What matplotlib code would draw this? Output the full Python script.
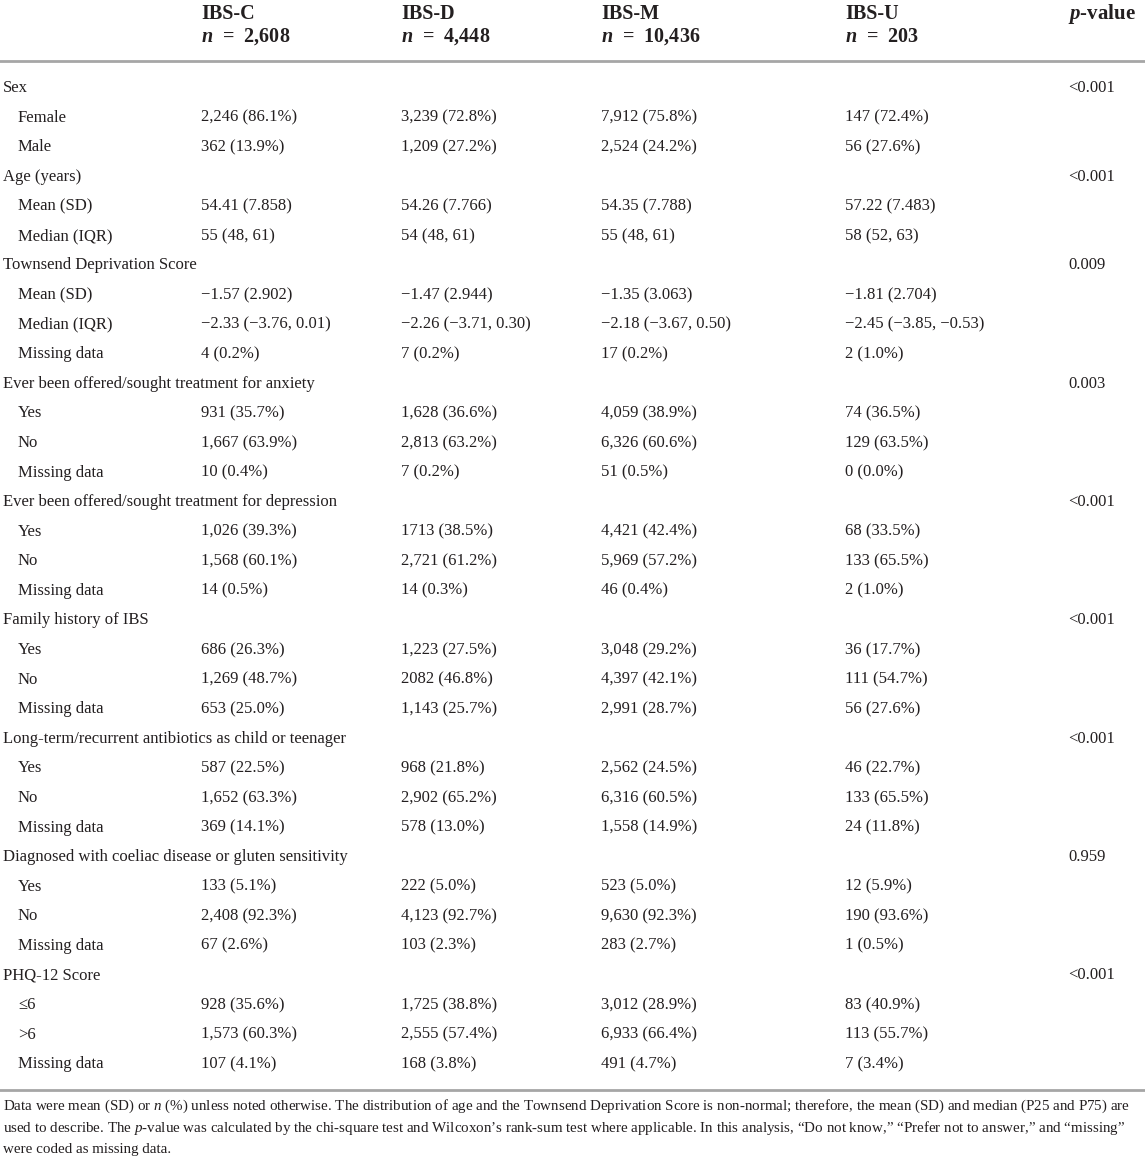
import matplotlib.pyplot as plt

plt.rcParams['font.family'] = ['Liberation Serif', 'DejaVu Serif']
plt.rcParams['mathtext.fontset'] = 'custom'
plt.rcParams['mathtext.rm'] = 'Liberation Serif'
plt.rcParams['mathtext.it'] = 'Liberation Serif:italic'
plt.rcParams['mathtext.bf'] = 'Liberation Serif:bold'
plt.rcParams['mathtext.bfit'] = 'Liberation Serif:italic:bold'

W, H = 1145, 1159

groups = ['IBS-C', 'IBS-D', 'IBS-M', 'IBS-U']
group_n = ['2,608', '4,448', '10,436', '203']

# (label, is_sub_row)
rows = [
  ('Sex', False), ('Female', True), ('Male', True),
  ('Age (years)', False), ('Mean (SD)', True), ('Median (IQR)', True),
  ('Townsend Deprivation Score', False), ('Mean (SD)', True), ('Median (IQR)', True), ('Missing data', True),
  ('Ever been offered/sought treatment for anxiety', False), ('Yes', True), ('No', True), ('Missing data', True),
  ('Ever been offered/sought treatment for depression', False), ('Yes', True), ('No', True), ('Missing data', True),
  ('Family history of IBS', False), ('Yes', True), ('No', True), ('Missing data', True),
  ('Long-term/recurrent antibiotics as child or teenager', False), ('Yes', True), ('No', True), ('Missing data', True),
  ('Diagnosed with coeliac disease or gluten sensitivity', False), ('Yes', True), ('No', True), ('Missing data', True),
  ('PHQ-12 Score', False), ('\u22646', True), ('>6', True), ('Missing data', True),
]

ibs_c = ['', '2,246 (86.1%)', '362 (13.9%)',
         '', '54.41 (7.858)', '55 (48, 61)',
         '', '\u22121.57 (2.902)', '\u22122.33 (\u22123.76, 0.01)', '4 (0.2%)',
         '', '931 (35.7%)', '1,667 (63.9%)', '10 (0.4%)',
         '', '1,026 (39.3%)', '1,568 (60.1%)', '14 (0.5%)',
         '', '686 (26.3%)', '1,269 (48.7%)', '653 (25.0%)',
         '', '587 (22.5%)', '1,652 (63.3%)', '369 (14.1%)',
         '', '133 (5.1%)', '2,408 (92.3%)', '67 (2.6%)',
         '', '928 (35.6%)', '1,573 (60.3%)', '107 (4.1%)']
ibs_d = ['', '3,239 (72.8%)', '1,209 (27.2%)',
         '', '54.26 (7.766)', '54 (48, 61)',
         '', '\u22121.47 (2.944)', '\u22122.26 (\u22123.71, 0.30)', '7 (0.2%)',
         '', '1,628 (36.6%)', '2,813 (63.2%)', '7 (0.2%)',
         '', '1713 (38.5%)', '2,721 (61.2%)', '14 (0.3%)',
         '', '1,223 (27.5%)', '2082 (46.8%)', '1,143 (25.7%)',
         '', '968 (21.8%)', '2,902 (65.2%)', '578 (13.0%)',
         '', '222 (5.0%)', '4,123 (92.7%)', '103 (2.3%)',
         '', '1,725 (38.8%)', '2,555 (57.4%)', '168 (3.8%)']
ibs_m = ['', '7,912 (75.8%)', '2,524 (24.2%)',
         '', '54.35 (7.788)', '55 (48, 61)',
         '', '\u22121.35 (3.063)', '\u22122.18 (\u22123.67, 0.50)', '17 (0.2%)',
         '', '4,059 (38.9%)', '6,326 (60.6%)', '51 (0.5%)',
         '', '4,421 (42.4%)', '5,969 (57.2%)', '46 (0.4%)',
         '', '3,048 (29.2%)', '4,397 (42.1%)', '2,991 (28.7%)',
         '', '2,562 (24.5%)', '6,316 (60.5%)', '1,558 (14.9%)',
         '', '523 (5.0%)', '9,630 (92.3%)', '283 (2.7%)',
         '', '3,012 (28.9%)', '6,933 (66.4%)', '491 (4.7%)']
ibs_u = ['', '147 (72.4%)', '56 (27.6%)',
         '', '57.22 (7.483)', '58 (52, 63)',
         '', '\u22121.81 (2.704)', '\u22122.45 (\u22123.85, \u22120.53)', '2 (1.0%)',
         '', '74 (36.5%)', '129 (63.5%)', '0 (0.0%)',
         '', '68 (33.5%)', '133 (65.5%)', '2 (1.0%)',
         '', '36 (17.7%)', '111 (54.7%)', '56 (27.6%)',
         '', '46 (22.7%)', '133 (65.5%)', '24 (11.8%)',
         '', '12 (5.9%)', '190 (93.6%)', '1 (0.5%)',
         '', '83 (40.9%)', '113 (55.7%)', '7 (3.4%)']
p_values = ['<0.001', '', '', '<0.001', '', '', '0.009', '', '', '',
            '0.003', '', '', '', '<0.001', '', '', '', '<0.001', '', '', '',
            '<0.001', '', '', '', '0.959', '', '', '', '<0.001', '', '', '']

footnote = [
  r'Data were mean (SD) or $n$ (%) unless noted otherwise. The distribution of age and the Townsend Deprivation Score is non-normal; therefore, the mean (SD) and median (P25 and P75) are',
  r'used to describe. The $p$-value was calculated by the chi-square test and Wilcoxon' + '\u2019' + r's rank-sum test where applicable. In this analysis, ' + '\u201c' + 'Do not know,' + '\u201d \u201c' + 'Prefer not to answer,' + '\u201d and \u201c' + 'missing' + '\u201d',
  'were coded as missing data.',
]

fig = plt.figure(figsize=(W / 100, H / 100), dpi=100)
ax = fig.add_axes([0, 0, 1, 1])
ax.set_xlim(0, W)
ax.set_ylim(H, 0)
ax.axis('off')

col_x = [201, 401, 601, 845]
p_x = 1068
body_fs = 12
head_fs = 14.5
txt = '#231f20'

# header
for x, g, n in zip(col_x, groups, group_n):
  ax.text(x, 14, g, fontsize=head_fs, fontweight='bold', va='center', ha='left', color=txt)
  ax.text(x, 37, r'$\mathbfit{n}$  =  ' + n, fontsize=head_fs, fontweight='bold', va='center', ha='left', color=txt)
ax.text(p_x, 14, r'$\mathbfit{p}$-value', fontsize=head_fs + 0.5, fontweight='bold', va='center', ha='left', color=txt)

ax.axhline(61, color='#a6a6a6', lw=2)

y0, dy = 88, 29.58
for i, (label, sub) in enumerate(rows):
  y = y0 + i * dy
  ax.text(18 if sub else 3, y, label, fontsize=body_fs, va='center', ha='left', color=txt)
  for x, col in zip(col_x, [ibs_c, ibs_d, ibs_m, ibs_u]):
    ax.text(x, y, col[i], fontsize=body_fs, va='center', ha='left', color=txt)
  ax.text(p_x, y, p_values[i], fontsize=body_fs, va='center', ha='left', color=txt)

ax.axhline(1090, color='#a6a6a6', lw=2)

for k, line in enumerate(footnote):
  ax.text(3, 1106 + k * 21.8, line, fontsize=10.85, va='center', ha='left', color=txt)

fig.savefig('out.png', dpi=100)
